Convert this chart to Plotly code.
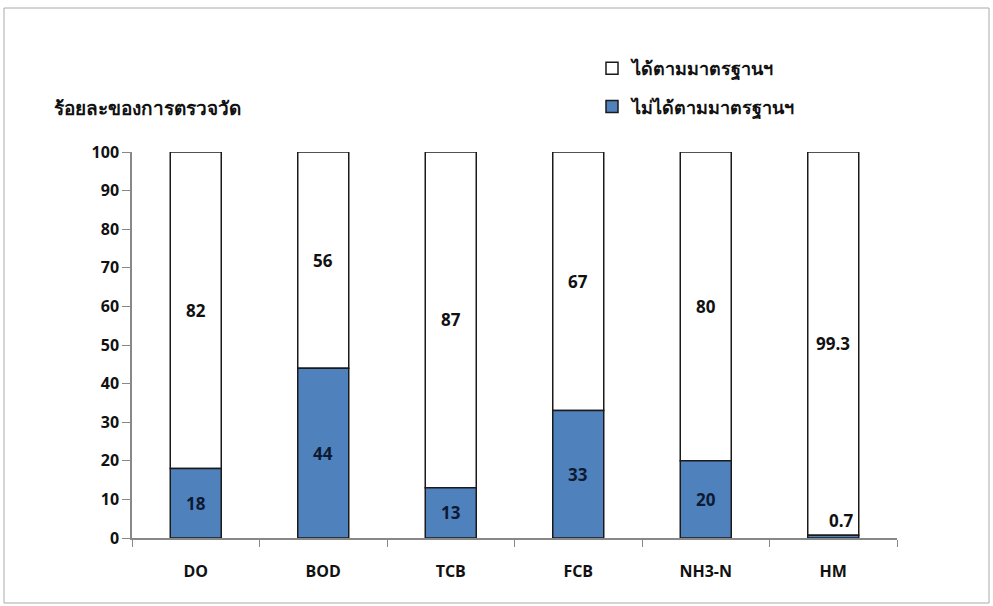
import plotly.graph_objects as go

categories = ["DO", "BOD", "TCB", "FCB", "NH3-N", "HM"]
fail_values = [18, 44, 13, 33, 20, 0.7]
pass_values = [82, 56, 87, 67, 80, 99.3]
fail_name = "ไม่ได้ตามมาตรฐานฯ"
pass_name = "ได้ตามมาตรฐานฯ"
y_title = "ร้อยละของการตรวจวัด"
y_ticks = [0, 10, 20, 30, 40, 50, 60, 70, 80, 90, 100]

W, H = 993, 606
L, R, T, B = 132, 96, 152, 68
pw, ph = W - L - R, H - T - B

def px_x(p):
    return (p - L) / pw

def px_y(p):
    return (H - B - p) / ph

font_fam = "Open Sans, Noto Sans, DejaVu Sans, sans-serif"
line_col = "#1a1a1a"

fig = go.Figure()
# "pass" portion sits on top of the "fail" portion (base = fail values)
fig.add_trace(go.Bar(
    x=categories, y=pass_values, base=fail_values, name=f"<b>{pass_name}</b>", legendgroup="p",
    marker=dict(color="white", line=dict(color=line_col, width=1.5)),
    width=0.4, hoverinfo="skip",
))
fig.add_trace(go.Bar(
    x=categories, y=fail_values, name=f"<b>{fail_name}</b>", legendgroup="f",
    marker=dict(color="#4F81BD", line=dict(color=line_col, width=1.5)),
    width=0.4, hoverinfo="skip",
))

annotations = []
for c, f, p in zip(categories, fail_values, pass_values):
    if f >= 5:
        annotations.append(dict(x=c, y=f / 2, text=f"<b>{f:g}</b>", showarrow=False,
                                font=dict(size=17, color="#0d1a33", family=font_fam)))
    else:
        annotations.append(dict(x=c, y=f, yanchor="bottom", yshift=1, xshift=8, text=f"<b>{f:g}</b>",
                                showarrow=False, font=dict(size=17, color="#111", family=font_fam)))
    annotations.append(dict(x=c, y=f + p / 2, text=f"<b>{p:g}</b>", showarrow=False,
                            font=dict(size=17, color="#111", family=font_fam)))

annotations.append(dict(xref="paper", yref="paper", x=px_x(52), y=px_y(108), xanchor="left",
                        yanchor="middle", text=f"<b>{y_title}</b>", showarrow=False,
                        font=dict(size=19, color="#111", family=font_fam)))

fig.update_layout(
    width=W, height=H,
    margin=dict(l=L, r=R, t=T, b=B),
    barmode="overlay",
    paper_bgcolor="white", plot_bgcolor="white",
    font=dict(family=font_fam, color="#111"),
    annotations=annotations,
    showlegend=True,
    legend=dict(x=px_x(592), y=px_y(50), xanchor="left", yanchor="top",
                traceorder="grouped", tracegroupgap=12,
                font=dict(size=18, color="#111", family=font_fam),
                bgcolor="rgba(0,0,0,0)", itemwidth=30),
    xaxis=dict(showline=True, linecolor="#888", linewidth=1.5, ticks="outside",
               tickson="boundaries", ticklen=7, tickcolor="#888",
               tickfont=dict(size=16, color="#111", family=font_fam),
               ticklabelstandoff=18,
               showgrid=False, fixedrange=True),
    yaxis=dict(range=[0, 100], tickvals=y_ticks, showline=True, linecolor="#888",
               linewidth=1.5, ticks="outside", ticklen=8, tickcolor="#888",
               tickfont=dict(size=16, color="#111", family=font_fam),
               showgrid=False, zeroline=False, fixedrange=True),
    shapes=[dict(type="rect", xref="paper", yref="paper",
                 x0=px_x(4), x1=px_x(989), y0=px_y(603), y1=px_y(8),
                 line=dict(color="#aaa", width=1))],
)
fig.update_xaxes(ticktext=[f"<b>{c}</b>" for c in categories], tickvals=categories)
fig.update_yaxes(ticktext=[f"<b>{v}</b>" for v in y_ticks])

fig.write_html("out.html")
